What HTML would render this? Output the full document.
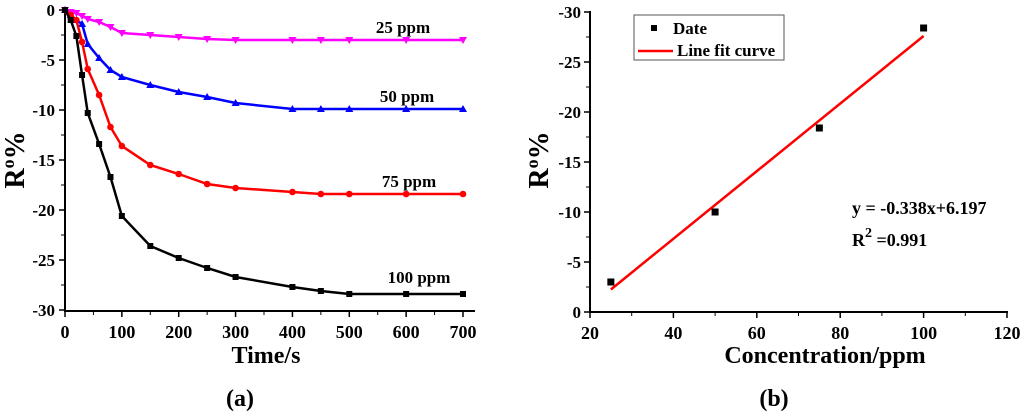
<!DOCTYPE html>
<html><head><meta charset="utf-8"><style>
html,body{margin:0;padding:0;background:#fff}
svg{display:block}
text{font-family:"Liberation Serif","DejaVu Serif",serif;font-weight:bold}
</style></head><body>
<svg id="c" width="1024" height="417" viewBox="0 0 1024 417"></svg>
<script>
const times=[0,10,20,30,40,60,80,100,150,200,250,300,400,450,500,600,700];
const s100=[0,-1,-2.6,-6.5,-10.3,-13.4,-16.7,-20.6,-23.6,-24.8,-25.8,-26.7,-27.7,-28.1,-28.4,-28.4,-28.4];
const s75=[0,-0.5,-1,-3.2,-5.9,-8.5,-11.7,-13.6,-15.5,-16.4,-17.4,-17.8,-18.2,-18.4,-18.4,-18.4,-18.4];
const s50=[0,-0.5,-1,-1.4,-3.4,-4.8,-6,-6.7,-7.5,-8.2,-8.7,-9.3,-9.9,-9.9,-9.9,-9.9,-9.9];
const s25=[0,-0.2,-0.3,-0.6,-0.9,-1.2,-1.7,-2.3,-2.5,-2.7,-2.9,-3,-3,-3,-3,-3,-3];
const conc=[25,50,75,100];
const resp=[-3,-10,-18.4,-28.4];
const fitSlope=-0.338, fitIntercept=6.197;
const xTicksA=[0,100,200,300,400,500,600,700];
const yTicksA=[0,-5,-10,-15,-20,-25,-30];
const xTicksB=[20,40,60,80,100,120];
const yTicksB=[-30,-25,-20,-15,-10,-5,0];

const svg=document.getElementById('c');
const NS='http://www.w3.org/2000/svg';
function el(t,a,p){const e=document.createElementNS(NS,t);for(const k in a)e.setAttribute(k,a[k]);(p||svg).appendChild(e);return e;}
function tx(x,y,s,size,anchor,name,extra){const e=el('text',Object.assign({x:x,y:y,'font-size':size,'text-anchor':anchor||'middle'},extra||{}));e.textContent=s;


return e;}
function ytitle(x,y,name){const e=tx(0,0,'',28,'middle',name,{transform:`translate(${x},${y}) rotate(-90)`});
e.innerHTML='R<tspan font-size="18" dy="-10">o</tspan><tspan dy="10">%</tspan>';}

// chart A
const ax=v=>65+v*(463-65)/700;
const ay=v=>10+(-v)*(300/30);
el('line',{x1:65,y1:10,x2:65,y2:312,stroke:'#000','stroke-width':2});
el('line',{x1:64,y1:311,x2:475,y2:311,stroke:'#000','stroke-width':2});
xTicksA.forEach(v=>{el('line',{x1:ax(v),y1:311,x2:ax(v),y2:317,stroke:'#000','stroke-width':1.5});tx(ax(v),338,v,18,'middle','x-tick-a');});
for(let v=50;v<700;v+=100){el('line',{x1:ax(v),y1:311,x2:ax(v),y2:315,stroke:'#000','stroke-width':1});}
yTicksA.forEach(v=>{el('line',{x1:59,y1:ay(v),x2:65,y2:ay(v),stroke:'#000','stroke-width':1.5});tx(55,ay(v)+6,v,17,'end','y-tick-a');});
for(let v=-2.5;v>-30;v-=5){el('line',{x1:61,y1:ay(v),x2:65,y2:ay(v),stroke:'#000','stroke-width':1});}
tx(266,363,'Time/s',24,'middle','x-axis-title-a');
ytitle(24,160,'y-axis-title-a');
function series(data,color,marker,name){
  const pts=times.map((t,i)=>ax(t)+','+ay(data[i])).join(' ');
  const pl=el('polyline',{points:pts,fill:'none',stroke:color,'stroke-width':2.5});
  
  
  times.forEach((t,i)=>{const x=ax(t),y=ay(data[i]);let m;
    if(marker==='sq')m=el('rect',{x:x-3,y:y-3,width:6,height:6,fill:color});
    else if(marker==='c')m=el('circle',{cx:x,cy:y,r:3.3,fill:color});
    else if(marker==='up')m=el('polygon',{points:`${x},${y-4} ${x-4},${y+3} ${x+4},${y+3}`,fill:color});
    else m=el('polygon',{points:`${x},${y+4} ${x-4},${y-3} ${x+4},${y-3}`,fill:color});
    
    });
}
series(s25,'#ff00ff','down','series-25ppm');
series(s50,'#0000ff','up','series-50ppm');
series(s75,'#ff0000','c','series-75ppm');
series(s100,'#000000','sq','series-100ppm');
tx(403,33,'25 ppm',17,'middle','label-25ppm');
tx(407,102,'50 ppm',17,'middle','label-50ppm');
tx(409,187,'75 ppm',17,'middle','label-75ppm');
tx(419,283,'100 ppm',17,'middle','label-100ppm');
tx(240,406,'',24,'middle','panel-label-a',{'font-weight':'normal'}).innerHTML='(<tspan font-weight="bold">a</tspan>)';

// chart B
const bx=v=>590+(v-20)*(1007-590)/100;
const by=v=>312-(-v)*(300/30);
el('line',{x1:590,y1:11,x2:590,y2:313,stroke:'#000','stroke-width':2});
el('line',{x1:589,y1:312,x2:1008,y2:312,stroke:'#000','stroke-width':2});
xTicksB.forEach(v=>{el('line',{x1:bx(v),y1:312,x2:bx(v),y2:318,stroke:'#000','stroke-width':1.5});tx(bx(v),339,v,18,'middle','x-tick-b');});
for(let v=30;v<120;v+=20){el('line',{x1:bx(v),y1:312,x2:bx(v),y2:316,stroke:'#000','stroke-width':1});}
yTicksB.forEach(v=>{el('line',{x1:584,y1:by(v),x2:590,y2:by(v),stroke:'#000','stroke-width':1.5});tx(581,by(v)+6,v,17,'end','y-tick-b');});
for(let v=-2.5;v>-30;v-=5){el('line',{x1:586,y1:by(v),x2:590,y2:by(v),stroke:'#000','stroke-width':1});}
tx(825,363,'Concentration/ppm',24,'middle','x-axis-title-b');
ytitle(548,160,'y-axis-title-b');
const fl=el('line',{x1:bx(25),y1:by(fitSlope*25+fitIntercept),x2:bx(100),y2:by(fitSlope*100+fitIntercept),stroke:'#ff0000','stroke-width':2.5});


conc.forEach((c,i)=>{const r=el('rect',{x:bx(c)-3.5,y:by(resp[i])-3.5,width:7,height:7,fill:'#000'});

});
const lg=el('rect',{x:634,y:15,width:150,height:45,fill:'#fff',stroke:'#555','stroke-width':1});


el('rect',{x:651,y:25,width:6,height:6,fill:'#000'});
tx(673,34,'Date',17,'start','legend-entry-date');
el('line',{x1:638,y1:51,x2:673,y2:51,stroke:'#ff0000','stroke-width':2.5});
tx(677,56,'Line fit curve',17,'start','legend-entry-fit');
tx(852,214,'y = -0.338x+6.197',18,'start','equation');
const r2=tx(852,246,'',18,'start','r-squared');r2.innerHTML='R<tspan dy="-9" font-size="14">2</tspan><tspan dy="9"> =0.991</tspan>';
tx(774,406,'',24,'middle','panel-label-b',{'font-weight':'normal'}).innerHTML='(<tspan font-weight="bold">b</tspan>)';
</script>
</body></html>
